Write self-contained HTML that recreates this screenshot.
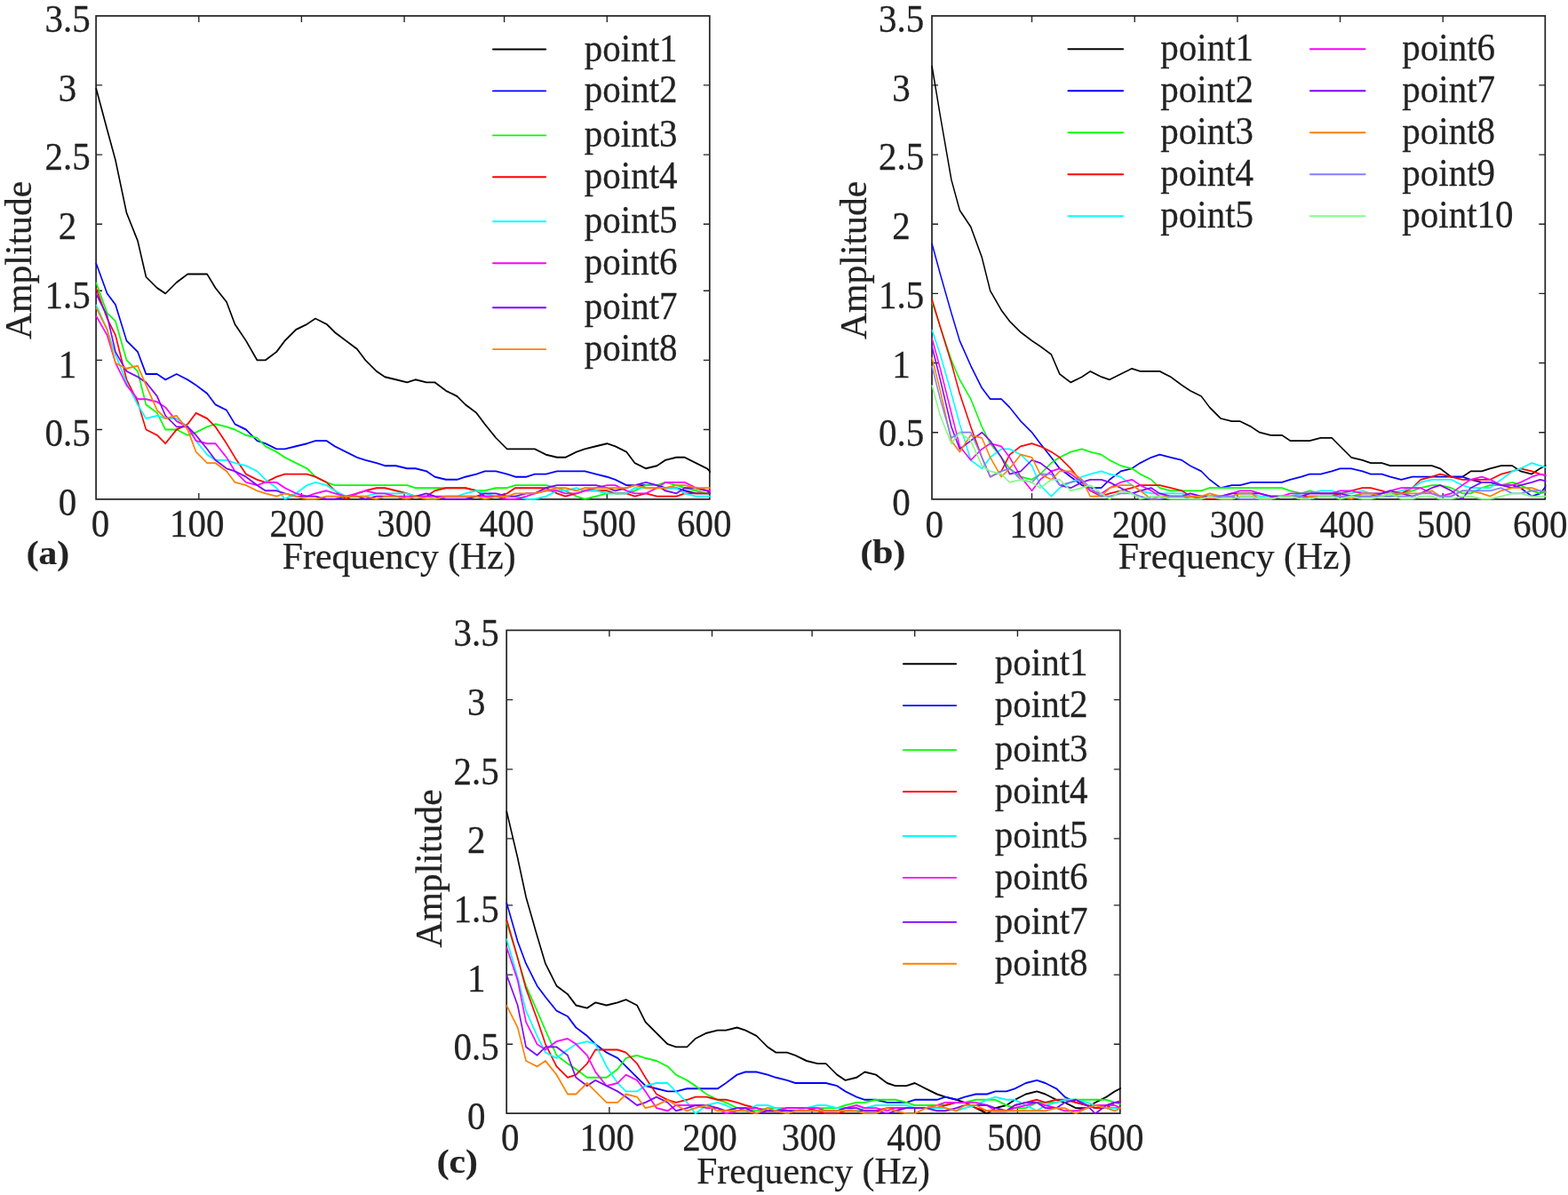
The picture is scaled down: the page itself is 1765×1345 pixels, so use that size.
<!DOCTYPE html>
<html lang="en">
<head>
<meta charset="utf-8">
<title>Amplitude spectra</title>
<style>
html,body{margin:0;padding:0;background:#fff;}
body{width:1765px;height:1345px;overflow:hidden;}
svg{display:block;}
text{font-family:"Liberation Serif",serif;fill:#222;stroke:#222;stroke-width:0.25px;}
.tk text{font-size:41px;}
.lb{font-size:41.7px;}
.lg{font-size:41px;}
.pn{font-size:41.5px;font-weight:bold;}
</style>
</head>
<body>
<svg width="1765" height="1345" viewBox="0 0 1765 1345">
<rect width="1765" height="1345" fill="#ffffff"/>
<g id="panel-a">
<clipPath id="clipa"><rect x="107.1" y="16.9" width="692.7" height="546.2"/></clipPath>
<rect x="108.1" y="17.9" width="690.7" height="544.0" fill="none" stroke="#222" stroke-width="1.7"/>
<path d="M223.8 561.9v-7M223.8 17.9v7M339.4 561.9v-7M339.4 17.9v7M455.1 561.9v-7M455.1 17.9v7M567.6 561.9v-7M567.6 17.9v7M683.3 561.9v-7M683.3 17.9v7M108.1 483.5h7M798.8 483.5h-7M108.1 405.4h7M798.8 405.4h-7M108.1 327.2h7M798.8 327.2h-7M108.1 252.2h7M798.8 252.2h-7M108.1 174.1h7M798.8 174.1h-7M108.1 95.9h7M798.8 95.9h-7" stroke="#222" stroke-width="1.35" fill="none"/>
<g clip-path="url(#clipa)"><g transform="scale(0.85,1)" fill="none" stroke-width="1.9" stroke-linejoin="round" stroke-linecap="butt">
<polyline stroke="#000000" points="127.18,99.1 141.89,145.9 152.92,180.3 167.63,239.7 182.34,271 193.37,311.6 208.08,324.1 219.12,330.4 233.83,317.9 248.54,308.5 259.57,308.5 274.28,308.5 285.32,324.1 300.03,339.8 311.06,364.8 325.77,383.5 340.48,405.4 351.51,405.4 366.22,396 377.26,383.5 391.97,371 406.68,364.8 417.71,358.5 432.42,364.8 443.45,374.1 458.16,383.5 472.88,392.9 483.91,405.4 498.62,417.9 509.65,424.2 524.36,427.3 539.07,430.4 550.11,427.3 564.82,430.4 575.85,430.4 590.56,439.8 605.27,446 616.3,455.4 631.01,464.8 642.05,477.3 656.76,492.9 671.47,505.4 682.5,505.4 697.21,505.4 708.24,505.4 722.96,511.7 737.67,514.8 748.7,514.8 763.41,508.6 774.44,505.4 789.15,502.3 803.86,499.2 814.9,502.3 829.61,508.6 840.64,521.1 855.35,527.3 870.06,524.2 881.09,517.9 895.8,514.8 906.84,514.8 921.55,521.1 936.26,527.3 947.29,536.7"/>
<polyline stroke="#0000ff" points="127.18,296 141.89,330.4 152.92,342.9 167.63,383.5 182.34,396 193.37,421 208.08,421 219.12,427.3 233.83,421 248.54,427.3 259.57,433.5 274.28,442.9 285.32,455.4 300.03,461.7 311.06,477.3 325.77,483.5 340.48,496.1 351.51,499.2 366.22,505.4 377.26,505.4 391.97,502.3 406.68,499.2 417.71,496.1 432.42,496.1 443.45,502.3 458.16,508.6 472.88,514.8 483.91,517.9 498.62,521.1 509.65,524.2 524.36,524.2 539.07,527.3 550.11,527.3 564.82,530.4 575.85,536.7 590.56,539.8 605.27,539.8 616.3,536.7 631.01,533.6 642.05,530.4 656.76,530.4 671.47,533.6 682.5,536.7 697.21,536.7 708.24,533.6 722.96,533.6 737.67,530.4 748.7,530.4 763.41,530.4 774.44,530.4 789.15,533.6 803.86,536.7 814.9,539.8 829.61,546.1 840.64,546.1 855.35,546.1 870.06,546.1 881.09,549.2 895.8,549.2 906.84,552.3 921.55,555.4 936.26,555.4 947.29,555.4"/>
<polyline stroke="#00ff00" points="127.18,317.9 141.89,352.3 152.92,361.6 167.63,405.4 182.34,417.9 193.37,455.4 208.08,464.8 219.12,483.5 233.83,483.5 248.54,489.8 259.57,486.7 274.28,480.4 285.32,477.3 300.03,480.4 311.06,483.5 325.77,489.8 340.48,492.9 351.51,502.3 366.22,508.6 377.26,514.8 391.97,521.1 406.68,527.3 417.71,536.7 432.42,542.9 443.45,546.1 458.16,546.1 472.88,546.1 483.91,546.1 498.62,546.1 509.65,546.1 524.36,546.1 539.07,546.1 550.11,549.2 564.82,549.2 575.85,549.2 590.56,549.2 605.27,549.2 616.3,549.2 631.01,552.3 642.05,552.3 656.76,549.2 671.47,549.2 682.5,546.1 697.21,546.1 708.24,546.1 722.96,546.1 737.67,549.2 748.7,552.3 763.41,558.6 774.44,561.7 789.15,558.6 803.86,555.4 814.9,555.4 829.61,555.4 840.64,552.3 855.35,546.1 870.06,546.1 881.09,542.9 895.8,546.1 906.84,549.2 921.55,552.3 936.26,555.4 947.29,555.4"/>
<polyline stroke="#ff0000" points="127.18,324.1 141.89,358.5 152.92,377.3 167.63,427.3 182.34,452.3 193.37,483.5 208.08,489.8 219.12,499.2 233.83,483.5 248.54,477.3 259.57,464.8 274.28,471 285.32,480.4 300.03,499.2 311.06,514.8 325.77,533.6 340.48,539.8 351.51,542.9 366.22,536.7 377.26,533.6 391.97,533.6 406.68,533.6 417.71,536.7 432.42,542.9 443.45,552.3 458.16,561.7 472.88,555.4 483.91,552.3 498.62,549.2 509.65,549.2 524.36,552.3 539.07,555.4 550.11,558.6 564.82,558.6 575.85,552.3 590.56,549.2 605.27,549.2 616.3,549.2 631.01,552.3 642.05,558.6 656.76,558.6 671.47,555.4 682.5,549.2 697.21,549.2 708.24,549.2 722.96,549.2 737.67,555.4 748.7,558.6 763.41,555.4 774.44,552.3 789.15,552.3 803.86,552.3 814.9,555.4 829.61,555.4 840.64,558.6 855.35,555.4 870.06,558.6 881.09,558.6 895.8,558.6 906.84,555.4 921.55,555.4 936.26,555.4 947.29,555.4"/>
<polyline stroke="#00ffff" points="127.18,342.9 141.89,371 152.92,399.1 167.63,430.4 182.34,455.4 193.37,471 208.08,467.9 219.12,471 233.83,471 248.54,480.4 259.57,496.1 274.28,511.7 285.32,517.9 300.03,517.9 311.06,521.1 325.77,524.2 340.48,530.4 351.51,539.8 366.22,549.2 377.26,561.7 391.97,555.4 406.68,546.1 417.71,542.9 432.42,546.1 443.45,552.3 458.16,558.6 472.88,558.6 483.91,558.6 498.62,555.4 509.65,555.4 524.36,555.4 539.07,555.4 550.11,558.6 564.82,558.6 575.85,561.7 590.56,558.6 605.27,558.6 616.3,555.4 631.01,552.3 642.05,555.4 656.76,558.6 671.47,558.6 682.5,558.6 697.21,561.7 708.24,561.7 722.96,558.6 737.67,552.3 748.7,552.3 763.41,549.2 774.44,552.3 789.15,552.3 803.86,555.4 814.9,555.4 829.61,555.4 840.64,549.2 855.35,549.2 870.06,549.2 881.09,549.2 895.8,549.2 906.84,555.4 921.55,558.6 936.26,558.6 947.29,558.6"/>
<polyline stroke="#ff00ff" points="127.18,355.4 141.89,377.3 152.92,408.5 167.63,433.5 182.34,449.2 193.37,449.2 208.08,452.3 219.12,458.5 233.83,474.2 248.54,480.4 259.57,496.1 274.28,499.2 285.32,499.2 300.03,514.8 311.06,530.4 325.77,542.9 340.48,546.1 351.51,542.9 366.22,542.9 377.26,549.2 391.97,555.4 406.68,558.6 417.71,555.4 432.42,552.3 443.45,555.4 458.16,558.6 472.88,555.4 483.91,552.3 498.62,555.4 509.65,555.4 524.36,558.6 539.07,558.6 550.11,558.6 564.82,558.6 575.85,558.6 590.56,558.6 605.27,558.6 616.3,558.6 631.01,558.6 642.05,558.6 656.76,558.6 671.47,561.7 682.5,561.7 697.21,558.6 708.24,555.4 722.96,552.3 737.67,552.3 748.7,555.4 763.41,555.4 774.44,552.3 789.15,549.2 803.86,546.1 814.9,546.1 829.61,552.3 840.64,555.4 855.35,555.4 870.06,549.2 881.09,542.9 895.8,542.9 906.84,542.9 921.55,549.2 936.26,552.3 947.29,552.3"/>
<polyline stroke="#8000ff" points="127.18,330.4 141.89,355.4 152.92,396 167.63,417.9 182.34,424.2 193.37,430.4 208.08,446 219.12,467.9 233.83,480.4 248.54,480.4 259.57,489.8 274.28,505.4 285.32,517.9 300.03,527.3 311.06,530.4 325.77,536.7 340.48,546.1 351.51,552.3 366.22,552.3 377.26,555.4 391.97,558.6 406.68,558.6 417.71,558.6 432.42,561.7 443.45,561.7 458.16,558.6 472.88,558.6 483.91,561.7 498.62,558.6 509.65,558.6 524.36,558.6 539.07,561.7 550.11,558.6 564.82,555.4 575.85,558.6 590.56,561.7 605.27,561.7 616.3,561.7 631.01,558.6 642.05,555.4 656.76,555.4 671.47,558.6 682.5,558.6 697.21,555.4 708.24,555.4 722.96,549.2 737.67,546.1 748.7,546.1 763.41,546.1 774.44,546.1 789.15,546.1 803.86,549.2 814.9,552.3 829.61,549.2 840.64,546.1 855.35,542.9 870.06,546.1 881.09,552.3 895.8,555.4 906.84,549.2 921.55,549.2 936.26,552.3 947.29,558.6"/>
<polyline stroke="#ff8000" points="127.18,346 141.89,371 152.92,408.5 167.63,414.8 182.34,411.7 193.37,433.5 208.08,461.7 219.12,471 233.83,467.9 248.54,483.5 259.57,508.6 274.28,521.1 285.32,521.1 300.03,530.4 311.06,542.9 325.77,546.1 340.48,552.3 351.51,555.4 366.22,558.6 377.26,555.4 391.97,558.6 406.68,561.7 417.71,561.7 432.42,558.6 443.45,558.6 458.16,558.6 472.88,558.6 483.91,558.6 498.62,561.7 509.65,558.6 524.36,558.6 539.07,561.7 550.11,558.6 564.82,561.7 575.85,561.7 590.56,558.6 605.27,558.6 616.3,558.6 631.01,558.6 642.05,561.7 656.76,558.6 671.47,558.6 682.5,555.4 697.21,555.4 708.24,555.4 722.96,552.3 737.67,549.2 748.7,549.2 763.41,552.3 774.44,549.2 789.15,549.2 803.86,549.2 814.9,549.2 829.61,549.2 840.64,546.1 855.35,549.2 870.06,549.2 881.09,549.2 895.8,546.1 906.84,546.1 921.55,549.2 936.26,549.2 947.29,549.2"/>
</g></g>
<g class="tk" text-anchor="middle">
<text transform="translate(113.1 604.4) scale(1,1.06)">0</text>
<text transform="translate(221.7 604.4) scale(1,1.06)">100</text>
<text transform="translate(334.3 604.4) scale(1,1.06)">200</text>
<text transform="translate(454.9 604.4) scale(1,1.06)">300</text>
<text transform="translate(570.6 604.4) scale(1,1.06)">400</text>
<text transform="translate(685.2 604.4) scale(1,1.06)">500</text>
<text transform="translate(792.8 604.4) scale(1,1.06)">600</text>
<text transform="translate(76.1 579.9) scale(1,1.06)">0</text>
<text transform="translate(76.1 502.2) scale(1,1.06)">0.5</text>
<text transform="translate(76.1 424.5) scale(1,1.06)">1</text>
<text transform="translate(76.1 346.8) scale(1,1.06)">1.5</text>
<text transform="translate(76.1 269.0) scale(1,1.06)">2</text>
<text transform="translate(76.1 191.3) scale(1,1.06)">2.5</text>
<text transform="translate(76.1 113.6) scale(1,1.06)">3</text>
<text transform="translate(76.1 35.9) scale(1,1.06)">3.5</text>
</g>
<text class="lb" text-anchor="middle" transform="translate(449.2 639.7) scale(1,1.0)">Frequency (Hz)</text>
<text class="lb" text-anchor="middle" transform="translate(34.6 292.9) rotate(-90) scale(1,1.0)">Amplitude</text>
<text class="pn" text-anchor="start" transform="translate(29.8 634.6) scale(1,0.93)">(a)</text>
<line x1="555.0" y1="55.5" x2="614.2" y2="55.5" stroke="#000000" stroke-width="1.9" stroke-linecap="round"/>
<text class="lg" text-anchor="start" transform="translate(657.8 68.5) scale(1,1.06)">point1</text>
<line x1="555.0" y1="102.4" x2="614.2" y2="102.4" stroke="#0000ff" stroke-width="1.9" stroke-linecap="round"/>
<text class="lg" text-anchor="start" transform="translate(657.8 115.4) scale(1,1.06)">point2</text>
<line x1="555.0" y1="152.4" x2="614.2" y2="152.4" stroke="#00ff00" stroke-width="1.9" stroke-linecap="round"/>
<text class="lg" text-anchor="start" transform="translate(657.8 165.4) scale(1,1.06)">point3</text>
<line x1="555.0" y1="199.3" x2="614.2" y2="199.3" stroke="#ff0000" stroke-width="1.9" stroke-linecap="round"/>
<text class="lg" text-anchor="start" transform="translate(657.8 212.3) scale(1,1.06)">point4</text>
<line x1="555.0" y1="249.3" x2="614.2" y2="249.3" stroke="#00ffff" stroke-width="1.9" stroke-linecap="round"/>
<text class="lg" text-anchor="start" transform="translate(657.8 262.3) scale(1,1.06)">point5</text>
<line x1="555.0" y1="296.2" x2="614.2" y2="296.2" stroke="#ff00ff" stroke-width="1.9" stroke-linecap="round"/>
<text class="lg" text-anchor="start" transform="translate(657.8 309.2) scale(1,1.06)">point6</text>
<line x1="555.0" y1="346.2" x2="614.2" y2="346.2" stroke="#8000ff" stroke-width="1.9" stroke-linecap="round"/>
<text class="lg" text-anchor="start" transform="translate(657.8 359.2) scale(1,1.06)">point7</text>
<line x1="555.0" y1="393.1" x2="614.2" y2="393.1" stroke="#ff8000" stroke-width="1.9" stroke-linecap="round"/>
<text class="lg" text-anchor="start" transform="translate(657.8 406.1) scale(1,1.06)">point8</text>
</g>
<g id="panel-b">
<clipPath id="clipb"><rect x="1048.0" y="16.9" width="692.3" height="546.2"/></clipPath>
<rect x="1049.0" y="17.9" width="690.3" height="544.0" fill="none" stroke="#222" stroke-width="1.7"/>
<path d="M1161.5 561.9v-7M1161.5 17.9v7M1277.2 561.9v-7M1277.2 17.9v7M1392.9 561.9v-7M1392.9 17.9v7M1508.5 561.9v-7M1508.5 17.9v7M1624.2 561.9v-7M1624.2 17.9v7M1049.0 486.7h7M1739.3 486.7h-7M1049.0 408.5h7M1739.3 408.5h-7M1049.0 330.4h7M1739.3 330.4h-7M1049.0 252.2h7M1739.3 252.2h-7M1049.0 174.1h7M1739.3 174.1h-7M1049.0 95.9h7M1739.3 95.9h-7" stroke="#222" stroke-width="1.35" fill="none"/>
<g clip-path="url(#clipb)"><g transform="scale(0.85,1)" fill="none" stroke-width="1.75" stroke-linejoin="round" stroke-linecap="butt">
<polyline stroke="#000000" points="1234.12,74 1245.15,130.3 1259.86,202.2 1270.89,236.6 1285.6,255.4 1300.32,289.7 1311.35,327.2 1326.06,349.1 1337.09,361.6 1351.8,374.1 1366.51,383.5 1377.55,389.8 1392.26,399.1 1403.29,421 1418,430.4 1432.71,424.2 1443.74,417.9 1458.45,424.2 1469.49,427.3 1484.2,421 1498.91,414.8 1509.94,417.9 1524.65,417.9 1535.68,417.9 1550.4,424.2 1565.11,433.5 1576.14,439.8 1590.85,446 1601.88,458.5 1616.59,471 1631.3,474.2 1642.34,474.2 1657.05,480.4 1668.08,486.7 1682.79,489.8 1697.5,489.8 1708.53,496.1 1723.24,496.1 1734.28,496.1 1748.99,492.9 1763.7,492.9 1774.73,502.3 1789.44,514.8 1804.15,517.9 1815.19,521.1 1829.9,521.1 1840.93,524.2 1855.64,524.2 1870.35,524.2 1881.38,524.2 1896.09,524.2 1907.13,527.3 1921.84,536.7 1936.55,536.7 1947.58,530.4 1962.29,530.4 1973.32,527.3 1988.04,524.2 2002.75,524.2 2013.78,530.4 2028.49,533.6 2039.52,527.3 2054.23,521.1"/>
<polyline stroke="#0000ff" points="1234.12,274.1 1245.15,308.5 1259.86,352.3 1270.89,383.5 1285.6,411.7 1300.32,436.7 1311.35,449.2 1326.06,449.2 1337.09,458.5 1351.8,474.2 1366.51,486.7 1377.55,499.2 1392.26,514.8 1403.29,527.3 1418,536.7 1432.71,546.1 1443.74,549.2 1458.45,549.2 1469.49,539.8 1484.2,530.4 1498.91,527.3 1509.94,521.1 1524.65,514.8 1535.68,511.7 1550.4,514.8 1565.11,517.9 1576.14,524.2 1590.85,530.4 1601.88,539.8 1616.59,549.2 1631.3,546.1 1642.34,546.1 1657.05,542.9 1668.08,542.9 1682.79,542.9 1697.5,542.9 1708.53,539.8 1723.24,536.7 1734.28,533.6 1748.99,533.6 1763.7,530.4 1774.73,527.3 1789.44,527.3 1804.15,530.4 1815.19,533.6 1829.9,533.6 1840.93,536.7 1855.64,539.8 1870.35,536.7 1881.38,536.7 1896.09,536.7 1907.13,536.7 1921.84,536.7 1936.55,536.7 1947.58,539.8 1962.29,542.9 1973.32,542.9 1988.04,546.1 2002.75,546.1 2013.78,549.2 2028.49,558.6 2039.52,555.4 2054.23,539.8"/>
<polyline stroke="#00ff00" points="1234.12,339.8 1245.15,367.9 1259.86,405.4 1270.89,427.3 1285.6,449.2 1300.32,480.4 1311.35,499.2 1326.06,514.8 1337.09,527.3 1351.8,536.7 1366.51,539.8 1377.55,533.6 1392.26,521.1 1403.29,514.8 1418,508.6 1432.71,505.4 1443.74,508.6 1458.45,511.7 1469.49,517.9 1484.2,524.2 1498.91,527.3 1509.94,533.6 1524.65,539.8 1535.68,549.2 1550.4,552.3 1565.11,552.3 1576.14,552.3 1590.85,552.3 1601.88,549.2 1616.59,549.2 1631.3,549.2 1642.34,549.2 1657.05,549.2 1668.08,549.2 1682.79,549.2 1697.5,549.2 1708.53,552.3 1723.24,555.4 1734.28,552.3 1748.99,555.4 1763.7,555.4 1774.73,558.6 1789.44,558.6 1804.15,555.4 1815.19,555.4 1829.9,558.6 1840.93,558.6 1855.64,555.4 1870.35,552.3 1881.38,549.2 1896.09,546.1 1907.13,546.1 1921.84,549.2 1936.55,555.4 1947.58,555.4 1962.29,549.2 1973.32,546.1 1988.04,546.1 2002.75,542.9 2013.78,546.1 2028.49,552.3 2039.52,555.4 2054.23,552.3"/>
<polyline stroke="#ff0000" points="1234.12,336.6 1245.15,367.9 1259.86,408.5 1270.89,442.9 1285.6,480.4 1300.32,514.8 1311.35,536.7 1326.06,530.4 1337.09,511.7 1351.8,502.3 1366.51,499.2 1377.55,502.3 1392.26,508.6 1403.29,514.8 1418,527.3 1432.71,542.9 1443.74,552.3 1458.45,558.6 1469.49,555.4 1484.2,552.3 1498.91,549.2 1509.94,546.1 1524.65,546.1 1535.68,546.1 1550.4,549.2 1565.11,552.3 1576.14,558.6 1590.85,561.7 1601.88,561.7 1616.59,561.7 1631.3,561.7 1642.34,558.6 1657.05,558.6 1668.08,561.7 1682.79,561.7 1697.5,558.6 1708.53,558.6 1723.24,558.6 1734.28,558.6 1748.99,558.6 1763.7,558.6 1774.73,555.4 1789.44,552.3 1804.15,549.2 1815.19,549.2 1829.9,552.3 1840.93,555.4 1855.64,555.4 1870.35,549.2 1881.38,539.8 1896.09,536.7 1907.13,533.6 1921.84,536.7 1936.55,539.8 1947.58,539.8 1962.29,539.8 1973.32,539.8 1988.04,533.6 2002.75,530.4 2013.78,527.3 2028.49,530.4 2039.52,533.6 2054.23,536.7"/>
<polyline stroke="#00ffff" points="1234.12,371 1245.15,399.1 1259.86,442.9 1270.89,477.3 1285.6,517.9 1300.32,527.3 1311.35,514.8 1326.06,505.4 1337.09,505.4 1351.8,511.7 1366.51,524.2 1377.55,546.1 1392.26,558.6 1403.29,549.2 1418,542.9 1432.71,536.7 1443.74,533.6 1458.45,530.4 1469.49,533.6 1484.2,536.7 1498.91,546.1 1509.94,552.3 1524.65,555.4 1535.68,555.4 1550.4,555.4 1565.11,555.4 1576.14,558.6 1590.85,558.6 1601.88,558.6 1616.59,558.6 1631.3,558.6 1642.34,555.4 1657.05,555.4 1668.08,558.6 1682.79,558.6 1697.5,558.6 1708.53,558.6 1723.24,555.4 1734.28,555.4 1748.99,552.3 1763.7,552.3 1774.73,555.4 1789.44,555.4 1804.15,552.3 1815.19,555.4 1829.9,555.4 1840.93,555.4 1855.64,552.3 1870.35,549.2 1881.38,542.9 1896.09,539.8 1907.13,539.8 1921.84,539.8 1936.55,546.1 1947.58,549.2 1962.29,549.2 1973.32,549.2 1988.04,539.8 2002.75,530.4 2013.78,527.3 2028.49,521.1 2039.52,524.2 2054.23,527.3"/>
<polyline stroke="#ff00ff" points="1234.12,380.4 1245.15,414.8 1259.86,464.8 1270.89,502.3 1285.6,517.9 1300.32,505.4 1311.35,499.2 1326.06,502.3 1337.09,514.8 1351.8,536.7 1366.51,552.3 1377.55,539.8 1392.26,530.4 1403.29,527.3 1418,533.6 1432.71,542.9 1443.74,552.3 1458.45,555.4 1469.49,549.2 1484.2,542.9 1498.91,539.8 1509.94,546.1 1524.65,552.3 1535.68,558.6 1550.4,558.6 1565.11,558.6 1576.14,558.6 1590.85,558.6 1601.88,558.6 1616.59,558.6 1631.3,555.4 1642.34,552.3 1657.05,552.3 1668.08,555.4 1682.79,558.6 1697.5,558.6 1708.53,555.4 1723.24,555.4 1734.28,555.4 1748.99,555.4 1763.7,555.4 1774.73,552.3 1789.44,552.3 1804.15,555.4 1815.19,555.4 1829.9,555.4 1840.93,552.3 1855.64,549.2 1870.35,549.2 1881.38,549.2 1896.09,555.4 1907.13,558.6 1921.84,555.4 1936.55,546.1 1947.58,539.8 1962.29,536.7 1973.32,539.8 1988.04,546.1 2002.75,546.1 2013.78,542.9 2028.49,536.7 2039.52,533.6 2054.23,536.7"/>
<polyline stroke="#8000ff" points="1234.12,389.8 1245.15,427.3 1259.86,480.4 1270.89,505.4 1285.6,496.1 1300.32,486.7 1311.35,496.1 1326.06,514.8 1337.09,533.6 1351.8,530.4 1366.51,517.9 1377.55,521.1 1392.26,530.4 1403.29,546.1 1418,549.2 1432.71,542.9 1443.74,539.8 1458.45,539.8 1469.49,542.9 1484.2,549.2 1498.91,555.4 1509.94,552.3 1524.65,549.2 1535.68,555.4 1550.4,558.6 1565.11,558.6 1576.14,555.4 1590.85,558.6 1601.88,558.6 1616.59,558.6 1631.3,555.4 1642.34,555.4 1657.05,555.4 1668.08,555.4 1682.79,558.6 1697.5,558.6 1708.53,558.6 1723.24,558.6 1734.28,555.4 1748.99,555.4 1763.7,555.4 1774.73,555.4 1789.44,558.6 1804.15,558.6 1815.19,558.6 1829.9,555.4 1840.93,552.3 1855.64,555.4 1870.35,558.6 1881.38,555.4 1896.09,549.2 1907.13,546.1 1921.84,552.3 1936.55,561.7 1947.58,549.2 1962.29,542.9 1973.32,542.9 1988.04,546.1 2002.75,549.2 2013.78,546.1 2028.49,542.9 2039.52,539.8 2054.23,542.9"/>
<polyline stroke="#ff8000" points="1234.12,402.3 1245.15,439.8 1259.86,496.1 1270.89,508.6 1285.6,489.8 1300.32,492.9 1311.35,514.8 1326.06,536.7 1337.09,527.3 1351.8,511.7 1366.51,514.8 1377.55,533.6 1392.26,539.8 1403.29,530.4 1418,530.4 1432.71,539.8 1443.74,558.6 1458.45,558.6 1469.49,549.2 1484.2,546.1 1498.91,546.1 1509.94,552.3 1524.65,561.7 1535.68,558.6 1550.4,558.6 1565.11,558.6 1576.14,558.6 1590.85,558.6 1601.88,555.4 1616.59,558.6 1631.3,558.6 1642.34,555.4 1657.05,555.4 1668.08,561.7 1682.79,561.7 1697.5,558.6 1708.53,558.6 1723.24,561.7 1734.28,558.6 1748.99,558.6 1763.7,558.6 1774.73,558.6 1789.44,561.7 1804.15,555.4 1815.19,555.4 1829.9,558.6 1840.93,555.4 1855.64,555.4 1870.35,555.4 1881.38,555.4 1896.09,552.3 1907.13,558.6 1921.84,558.6 1936.55,552.3 1947.58,552.3 1962.29,555.4 1973.32,558.6 1988.04,552.3 2002.75,549.2 2013.78,549.2 2028.49,549.2 2039.52,552.3 2054.23,555.4"/>
<polyline stroke="#8080ff" points="1234.12,411.7 1245.15,449.2 1259.86,492.9 1270.89,486.7 1285.6,486.7 1300.32,514.8 1311.35,536.7 1326.06,530.4 1337.09,527.3 1351.8,539.8 1366.51,542.9 1377.55,533.6 1392.26,533.6 1403.29,546.1 1418,542.9 1432.71,539.8 1443.74,549.2 1458.45,558.6 1469.49,558.6 1484.2,555.4 1498.91,555.4 1509.94,558.6 1524.65,561.7 1535.68,561.7 1550.4,558.6 1565.11,558.6 1576.14,561.7 1590.85,561.7 1601.88,558.6 1616.59,558.6 1631.3,558.6 1642.34,561.7 1657.05,561.7 1668.08,561.7 1682.79,561.7 1697.5,558.6 1708.53,558.6 1723.24,558.6 1734.28,561.7 1748.99,558.6 1763.7,558.6 1774.73,558.6 1789.44,558.6 1804.15,558.6 1815.19,558.6 1829.9,558.6 1840.93,558.6 1855.64,558.6 1870.35,558.6 1881.38,555.4 1896.09,555.4 1907.13,558.6 1921.84,558.6 1936.55,552.3 1947.58,552.3 1962.29,552.3 1973.32,552.3 1988.04,549.2 2002.75,555.4 2013.78,555.4 2028.49,552.3 2039.52,552.3 2054.23,555.4"/>
<polyline stroke="#80ff80" points="1234.12,433.5 1245.15,467.9 1259.86,499.2 1270.89,486.7 1285.6,496.1 1300.32,524.2 1311.35,530.4 1326.06,533.6 1337.09,542.9 1351.8,539.8 1366.51,542.9 1377.55,549.2 1392.26,539.8 1403.29,539.8 1418,552.3 1432.71,549.2 1443.74,546.1 1458.45,555.4 1469.49,561.7 1484.2,552.3 1498.91,555.4 1509.94,561.7 1524.65,558.6 1535.68,558.6 1550.4,561.7 1565.11,561.7 1576.14,561.7 1590.85,561.7 1601.88,558.6 1616.59,561.7 1631.3,561.7 1642.34,558.6 1657.05,558.6 1668.08,561.7 1682.79,561.7 1697.5,558.6 1708.53,558.6 1723.24,561.7 1734.28,561.7 1748.99,558.6 1763.7,558.6 1774.73,561.7 1789.44,558.6 1804.15,561.7 1815.19,561.7 1829.9,558.6 1840.93,555.4 1855.64,561.7 1870.35,561.7 1881.38,558.6 1896.09,558.6 1907.13,561.7 1921.84,561.7 1936.55,558.6 1947.58,558.6 1962.29,561.7 1973.32,561.7 1988.04,558.6 2002.75,555.4 2013.78,555.4 2028.49,558.6 2039.52,558.6 2054.23,558.6"/>
</g></g>
<g class="tk" text-anchor="middle">
<text transform="translate(1051.8 604.6) scale(1,1.06)">0</text>
<text transform="translate(1167.0 604.6) scale(1,1.06)">100</text>
<text transform="translate(1282.6 604.6) scale(1,1.06)">200</text>
<text transform="translate(1392.6 604.6) scale(1,1.06)">300</text>
<text transform="translate(1516.2 604.6) scale(1,1.06)">400</text>
<text transform="translate(1625.8 604.6) scale(1,1.06)">500</text>
<text transform="translate(1733.8 604.6) scale(1,1.06)">600</text>
<text transform="translate(1014.5 579.9) scale(1,1.06)">0</text>
<text transform="translate(1014.5 502.2) scale(1,1.06)">0.5</text>
<text transform="translate(1014.5 424.5) scale(1,1.06)">1</text>
<text transform="translate(1014.5 346.8) scale(1,1.06)">1.5</text>
<text transform="translate(1014.5 269.0) scale(1,1.06)">2</text>
<text transform="translate(1014.5 191.3) scale(1,1.06)">2.5</text>
<text transform="translate(1014.5 113.6) scale(1,1.06)">3</text>
<text transform="translate(1014.5 35.9) scale(1,1.06)">3.5</text>
</g>
<text class="lb" text-anchor="middle" transform="translate(1390.0 639.7) scale(1,1.0)">Frequency (Hz)</text>
<text class="lb" text-anchor="middle" transform="translate(974.5 292.9) rotate(-90) scale(1,1.0)">Amplitude</text>
<text class="pn" text-anchor="start" transform="translate(968.5 634.4) scale(1,0.93)">(b)</text>
<line x1="1202.4" y1="55.2" x2="1264.1" y2="55.2" stroke="#000000" stroke-width="1.9" stroke-linecap="round"/>
<text class="lg" text-anchor="start" transform="translate(1306.3 68.2) scale(1,1.06)">point1</text>
<line x1="1202.4" y1="102.2" x2="1264.1" y2="102.2" stroke="#0000ff" stroke-width="1.9" stroke-linecap="round"/>
<text class="lg" text-anchor="start" transform="translate(1306.3 115.2) scale(1,1.06)">point2</text>
<line x1="1202.4" y1="149.2" x2="1264.1" y2="149.2" stroke="#00ff00" stroke-width="1.9" stroke-linecap="round"/>
<text class="lg" text-anchor="start" transform="translate(1306.3 162.2) scale(1,1.06)">point3</text>
<line x1="1202.4" y1="196.2" x2="1264.1" y2="196.2" stroke="#ff0000" stroke-width="1.9" stroke-linecap="round"/>
<text class="lg" text-anchor="start" transform="translate(1306.3 209.2) scale(1,1.06)">point4</text>
<line x1="1202.4" y1="243.2" x2="1264.1" y2="243.2" stroke="#00ffff" stroke-width="1.9" stroke-linecap="round"/>
<text class="lg" text-anchor="start" transform="translate(1306.3 256.2) scale(1,1.06)">point5</text>
<line x1="1474.9" y1="55.2" x2="1536.6" y2="55.2" stroke="#ff00ff" stroke-width="1.9" stroke-linecap="round"/>
<text class="lg" text-anchor="start" transform="translate(1578.3 68.2) scale(1,1.06)">point6</text>
<line x1="1474.9" y1="102.2" x2="1536.6" y2="102.2" stroke="#8000ff" stroke-width="1.9" stroke-linecap="round"/>
<text class="lg" text-anchor="start" transform="translate(1578.3 115.2) scale(1,1.06)">point7</text>
<line x1="1474.9" y1="149.2" x2="1536.6" y2="149.2" stroke="#ff8000" stroke-width="1.9" stroke-linecap="round"/>
<text class="lg" text-anchor="start" transform="translate(1578.3 162.2) scale(1,1.06)">point8</text>
<line x1="1474.9" y1="196.2" x2="1536.6" y2="196.2" stroke="#8080ff" stroke-width="1.9" stroke-linecap="round"/>
<text class="lg" text-anchor="start" transform="translate(1578.3 209.2) scale(1,1.06)">point9</text>
<line x1="1474.9" y1="243.2" x2="1536.6" y2="243.2" stroke="#80ff80" stroke-width="1.9" stroke-linecap="round"/>
<text class="lg" text-anchor="start" transform="translate(1578.3 256.2) scale(1,1.06)">point10</text>
</g>
<g id="panel-c">
<clipPath id="clipc"><rect x="569.2" y="708.4" width="692.6" height="545.9"/></clipPath>
<rect x="570.2" y="709.4" width="690.6" height="543.7" fill="none" stroke="#222" stroke-width="1.7"/>
<path d="M685.9 1253.1v-7M685.9 709.4v7M801.5 1253.1v-7M801.5 709.4v7M914.1 1253.1v-7M914.1 709.4v7M1029.7 1253.1v-7M1029.7 709.4v7M1145.4 1253.1v-7M1145.4 709.4v7M570.2 1175.2h7M1260.8 1175.2h-7M570.2 1097.1h7M1260.8 1097.1h-7M570.2 1018.9h7M1260.8 1018.9h-7M570.2 943.9h7M1260.8 943.9h-7M570.2 865.8h7M1260.8 865.8h-7M570.2 787.6h7M1260.8 787.6h-7" stroke="#222" stroke-width="1.35" fill="none"/>
<g clip-path="url(#clipc)"><g transform="scale(0.85,1)" fill="none" stroke-width="1.9" stroke-linejoin="round" stroke-linecap="butt">
<polyline stroke="#000000" points="670.82,912.7 685.53,965.8 696.57,1009.6 711.28,1053.3 722.31,1084.6 737.02,1109.6 751.73,1119 762.76,1131.5 777.48,1134.6 788.51,1128.4 803.22,1131.5 817.93,1128.4 828.96,1125.2 843.67,1131.5 854.71,1150.2 869.42,1162.7 884.13,1175.2 895.16,1178.4 909.87,1178.4 920.9,1169 935.61,1162.7 950.32,1159.6 961.36,1159.6 976.07,1156.5 987.1,1159.6 1001.81,1165.9 1016.52,1178.4 1027.56,1184.6 1042.27,1184.6 1053.3,1187.8 1068.01,1194 1082.72,1197.1 1093.75,1197.1 1108.46,1209.6 1119.5,1215.9 1134.21,1212.8 1145.24,1206.5 1159.95,1209.6 1174.66,1219 1185.69,1222.1 1200.4,1222.1 1211.44,1219 1226.15,1225.3 1240.86,1231.5 1251.89,1234.6 1266.6,1237.8 1277.64,1240.9 1292.35,1247.1 1307.06,1253.4 1318.09,1247.1 1332.8,1244 1343.83,1237.8 1358.54,1231.5 1373.25,1228.4 1384.29,1231.5 1399,1237.8 1410.03,1240.9 1424.74,1247.1 1439.45,1247.1 1450.48,1240.9 1465.2,1234.6 1476.23,1228.4 1490.94,1222.1"/>
<polyline stroke="#0000ff" points="670.82,1015.8 685.53,1059.6 696.57,1084.6 711.28,1109.6 722.31,1122.1 737.02,1137.7 751.73,1144 762.76,1156.5 777.48,1165.9 788.51,1175.2 803.22,1184.6 817.93,1190.9 828.96,1200.3 843.67,1212.8 854.71,1222.1 869.42,1225.3 884.13,1228.4 895.16,1228.4 909.87,1225.3 920.9,1225.3 935.61,1225.3 950.32,1225.3 961.36,1219 976.07,1209.6 987.1,1206.5 1001.81,1206.5 1016.52,1209.6 1027.56,1212.8 1042.27,1215.9 1053.3,1219 1068.01,1219 1082.72,1219 1093.75,1219 1108.46,1222.1 1119.5,1228.4 1134.21,1234.6 1145.24,1237.8 1159.95,1237.8 1174.66,1240.9 1185.69,1240.9 1200.4,1240.9 1211.44,1237.8 1226.15,1237.8 1240.86,1237.8 1251.89,1234.6 1266.6,1237.8 1277.64,1234.6 1292.35,1231.5 1307.06,1231.5 1318.09,1228.4 1332.8,1228.4 1343.83,1225.3 1358.54,1219 1373.25,1215.9 1384.29,1219 1399,1225.3 1410.03,1234.6 1424.74,1240.9 1439.45,1244 1450.48,1247.1 1465.2,1247.1 1476.23,1247.1 1490.94,1247.1"/>
<polyline stroke="#00ff00" points="670.82,1037.7 685.53,1078.3 696.57,1109.6 711.28,1137.7 722.31,1159.6 737.02,1187.8 751.73,1197.1 762.76,1203.4 777.48,1212.8 788.51,1212.8 803.22,1212.8 817.93,1203.4 828.96,1190.9 843.67,1187.8 854.71,1190.9 869.42,1194 884.13,1200.3 895.16,1209.6 909.87,1215.9 920.9,1222.1 935.61,1231.5 950.32,1237.8 961.36,1240.9 976.07,1247.1 987.1,1247.1 1001.81,1250.3 1016.52,1247.1 1027.56,1247.1 1042.27,1247.1 1053.3,1247.1 1068.01,1247.1 1082.72,1247.1 1093.75,1247.1 1108.46,1247.1 1119.5,1244 1134.21,1240.9 1145.24,1240.9 1159.95,1237.8 1174.66,1237.8 1185.69,1237.8 1200.4,1240.9 1211.44,1244 1226.15,1244 1240.86,1244 1251.89,1244 1266.6,1240.9 1277.64,1240.9 1292.35,1237.8 1307.06,1237.8 1318.09,1237.8 1332.8,1244 1343.83,1247.1 1358.54,1247.1 1373.25,1240.9 1384.29,1240.9 1399,1240.9 1410.03,1237.8 1424.74,1237.8 1439.45,1237.8 1450.48,1237.8 1465.2,1237.8 1476.23,1240.9 1490.94,1244"/>
<polyline stroke="#ff0000" points="670.82,1034.6 685.53,1078.3 696.57,1112.7 711.28,1147.1 722.31,1175.2 737.02,1200.3 751.73,1212.8 762.76,1209.6 777.48,1197.1 788.51,1181.5 803.22,1181.5 817.93,1181.5 828.96,1184.6 843.67,1197.1 854.71,1212.8 869.42,1231.5 884.13,1237.8 895.16,1240.9 909.87,1237.8 920.9,1234.6 935.61,1234.6 950.32,1237.8 961.36,1237.8 976.07,1240.9 987.1,1244 1001.81,1247.1 1016.52,1250.3 1027.56,1250.3 1042.27,1247.1 1053.3,1247.1 1068.01,1247.1 1082.72,1250.3 1093.75,1253.4 1108.46,1253.4 1119.5,1250.3 1134.21,1250.3 1145.24,1250.3 1159.95,1250.3 1174.66,1247.1 1185.69,1247.1 1200.4,1247.1 1211.44,1247.1 1226.15,1247.1 1240.86,1247.1 1251.89,1244 1266.6,1240.9 1277.64,1240.9 1292.35,1247.1 1307.06,1250.3 1318.09,1250.3 1332.8,1250.3 1343.83,1244 1358.54,1240.9 1373.25,1237.8 1384.29,1240.9 1399,1237.8 1410.03,1237.8 1424.74,1240.9 1439.45,1244 1450.48,1247.1 1465.2,1247.1 1476.23,1240.9 1490.94,1237.8"/>
<polyline stroke="#00ffff" points="670.82,1056.5 685.53,1100.2 696.57,1137.7 711.28,1165.9 722.31,1184.6 737.02,1190.9 751.73,1181.5 762.76,1175.2 777.48,1172.1 788.51,1175.2 803.22,1200.3 817.93,1219 828.96,1228.4 843.67,1228.4 854.71,1222.1 869.42,1219 884.13,1219 895.16,1228.4 909.87,1240.9 920.9,1253.4 935.61,1244 950.32,1240.9 961.36,1244 976.07,1250.3 987.1,1250.3 1001.81,1244 1016.52,1244 1027.56,1247.1 1042.27,1250.3 1053.3,1250.3 1068.01,1247.1 1082.72,1244 1093.75,1244 1108.46,1247.1 1119.5,1247.1 1134.21,1250.3 1145.24,1247.1 1159.95,1244 1174.66,1244 1185.69,1244 1200.4,1244 1211.44,1247.1 1226.15,1247.1 1240.86,1247.1 1251.89,1247.1 1266.6,1250.3 1277.64,1247.1 1292.35,1244 1307.06,1237.8 1318.09,1234.6 1332.8,1237.8 1343.83,1237.8 1358.54,1244 1373.25,1250.3 1384.29,1244 1399,1240.9 1410.03,1237.8 1424.74,1237.8 1439.45,1240.9 1450.48,1244 1465.2,1247.1 1476.23,1247.1 1490.94,1247.1"/>
<polyline stroke="#ff00ff" points="670.82,1065.8 685.53,1103.4 696.57,1150.2 711.28,1175.2 722.31,1181.5 737.02,1172.1 751.73,1169 762.76,1175.2 777.48,1187.8 788.51,1206.5 803.22,1222.1 817.93,1219 828.96,1209.6 843.67,1215.9 854.71,1228.4 869.42,1247.1 884.13,1250.3 895.16,1244 909.87,1244 920.9,1244 935.61,1247.1 950.32,1247.1 961.36,1253.4 976.07,1250.3 987.1,1247.1 1001.81,1247.1 1016.52,1250.3 1027.56,1250.3 1042.27,1247.1 1053.3,1247.1 1068.01,1247.1 1082.72,1247.1 1093.75,1250.3 1108.46,1250.3 1119.5,1247.1 1134.21,1244 1145.24,1247.1 1159.95,1247.1 1174.66,1250.3 1185.69,1247.1 1200.4,1247.1 1211.44,1247.1 1226.15,1247.1 1240.86,1244 1251.89,1240.9 1266.6,1240.9 1277.64,1240.9 1292.35,1240.9 1307.06,1244 1318.09,1250.3 1332.8,1250.3 1343.83,1247.1 1358.54,1244 1373.25,1240.9 1384.29,1244 1399,1247.1 1410.03,1250.3 1424.74,1250.3 1439.45,1247.1 1450.48,1244 1465.2,1244 1476.23,1244 1490.94,1250.3"/>
<polyline stroke="#8000ff" points="670.82,1097.1 685.53,1131.5 696.57,1178.4 711.28,1187.8 722.31,1178.4 737.02,1178.4 751.73,1187.8 762.76,1212.8 777.48,1222.1 788.51,1215.9 803.22,1222.1 817.93,1228.4 828.96,1234.6 843.67,1244 854.71,1240.9 869.42,1234.6 884.13,1240.9 895.16,1250.3 909.87,1247.1 920.9,1244 935.61,1244 950.32,1247.1 961.36,1250.3 976.07,1247.1 987.1,1247.1 1001.81,1253.4 1016.52,1250.3 1027.56,1250.3 1042.27,1250.3 1053.3,1250.3 1068.01,1250.3 1082.72,1250.3 1093.75,1250.3 1108.46,1250.3 1119.5,1247.1 1134.21,1247.1 1145.24,1250.3 1159.95,1250.3 1174.66,1253.4 1185.69,1250.3 1200.4,1247.1 1211.44,1247.1 1226.15,1247.1 1240.86,1250.3 1251.89,1250.3 1266.6,1247.1 1277.64,1244 1292.35,1244 1307.06,1244 1318.09,1247.1 1332.8,1250.3 1343.83,1244 1358.54,1240.9 1373.25,1240.9 1384.29,1247.1 1399,1247.1 1410.03,1240.9 1424.74,1237.8 1439.45,1244 1450.48,1253.4 1465.2,1244 1476.23,1240.9 1490.94,1240.9"/>
<polyline stroke="#ff8000" points="670.82,1131.5 685.53,1156.5 696.57,1194 711.28,1200.3 722.31,1194 737.02,1209.6 751.73,1231.5 762.76,1231.5 777.48,1219 788.51,1228.4 803.22,1240.9 817.93,1240.9 828.96,1231.5 843.67,1234.6 854.71,1247.1 869.42,1244 884.13,1237.8 895.16,1244 909.87,1250.3 920.9,1247.1 935.61,1244 950.32,1250.3 961.36,1250.3 976.07,1250.3 987.1,1250.3 1001.81,1253.4 1016.52,1247.1 1027.56,1250.3 1042.27,1253.4 1053.3,1250.3 1068.01,1250.3 1082.72,1250.3 1093.75,1250.3 1108.46,1250.3 1119.5,1250.3 1134.21,1250.3 1145.24,1253.4 1159.95,1253.4 1174.66,1247.1 1185.69,1250.3 1200.4,1253.4 1211.44,1253.4 1226.15,1247.1 1240.86,1244 1251.89,1247.1 1266.6,1250.3 1277.64,1244 1292.35,1244 1307.06,1250.3 1318.09,1250.3 1332.8,1250.3 1343.83,1250.3 1358.54,1250.3 1373.25,1250.3 1384.29,1250.3 1399,1247.1 1410.03,1247.1 1424.74,1253.4 1439.45,1247.1 1450.48,1244 1465.2,1247.1 1476.23,1250.3 1490.94,1244"/>
</g></g>
<g class="tk" text-anchor="middle">
<text transform="translate(574.2 1295.3) scale(1,1.06)">0</text>
<text transform="translate(683.3 1295.3) scale(1,1.06)">100</text>
<text transform="translate(798.9 1295.3) scale(1,1.06)">200</text>
<text transform="translate(910.5 1295.3) scale(1,1.06)">300</text>
<text transform="translate(1029.1 1295.3) scale(1,1.06)">400</text>
<text transform="translate(1141.7 1295.3) scale(1,1.06)">500</text>
<text transform="translate(1256.8 1295.3) scale(1,1.06)">600</text>
<text transform="translate(536.2 1271.1) scale(1,1.06)">0</text>
<text transform="translate(536.2 1193.4) scale(1,1.06)">0.5</text>
<text transform="translate(536.2 1115.8) scale(1,1.06)">1</text>
<text transform="translate(536.2 1038.1) scale(1,1.06)">1.5</text>
<text transform="translate(536.2 960.4) scale(1,1.06)">2</text>
<text transform="translate(536.2 882.7) scale(1,1.06)">2.5</text>
<text transform="translate(536.2 805.1) scale(1,1.06)">3</text>
<text transform="translate(536.2 727.4) scale(1,1.06)">3.5</text>
</g>
<text class="lb" text-anchor="middle" transform="translate(915.5 1331.7) scale(1,1.0)">Frequency (Hz)</text>
<text class="lb" text-anchor="middle" transform="translate(496.7 977.5) rotate(-90) scale(1,1.0)">Amplitude</text>
<text class="pn" text-anchor="start" transform="translate(491.7 1320.1) scale(1,0.93)">(c)</text>
<line x1="1016.9" y1="747.2" x2="1076.1" y2="747.2" stroke="#000000" stroke-width="1.9" stroke-linecap="round"/>
<text class="lg" text-anchor="start" transform="translate(1119.8 760.2) scale(1,1.06)">point1</text>
<line x1="1016.9" y1="794.1" x2="1076.1" y2="794.1" stroke="#0000ff" stroke-width="1.9" stroke-linecap="round"/>
<text class="lg" text-anchor="start" transform="translate(1119.8 807.1) scale(1,1.06)">point2</text>
<line x1="1016.9" y1="844.1" x2="1076.1" y2="844.1" stroke="#00ff00" stroke-width="1.9" stroke-linecap="round"/>
<text class="lg" text-anchor="start" transform="translate(1119.8 857.1) scale(1,1.06)">point3</text>
<line x1="1016.9" y1="891.0" x2="1076.1" y2="891.0" stroke="#ff0000" stroke-width="1.9" stroke-linecap="round"/>
<text class="lg" text-anchor="start" transform="translate(1119.8 904.0) scale(1,1.06)">point4</text>
<line x1="1016.9" y1="941.0" x2="1076.1" y2="941.0" stroke="#00ffff" stroke-width="1.9" stroke-linecap="round"/>
<text class="lg" text-anchor="start" transform="translate(1119.8 954.0) scale(1,1.06)">point5</text>
<line x1="1016.9" y1="987.9" x2="1076.1" y2="987.9" stroke="#ff00ff" stroke-width="1.9" stroke-linecap="round"/>
<text class="lg" text-anchor="start" transform="translate(1119.8 1000.9) scale(1,1.06)">point6</text>
<line x1="1016.9" y1="1037.9" x2="1076.1" y2="1037.9" stroke="#8000ff" stroke-width="1.9" stroke-linecap="round"/>
<text class="lg" text-anchor="start" transform="translate(1119.8 1050.9) scale(1,1.06)">point7</text>
<line x1="1016.9" y1="1084.8" x2="1076.1" y2="1084.8" stroke="#ff8000" stroke-width="1.9" stroke-linecap="round"/>
<text class="lg" text-anchor="start" transform="translate(1119.8 1097.8) scale(1,1.06)">point8</text>
</g>
</svg>
</body>
</html>
